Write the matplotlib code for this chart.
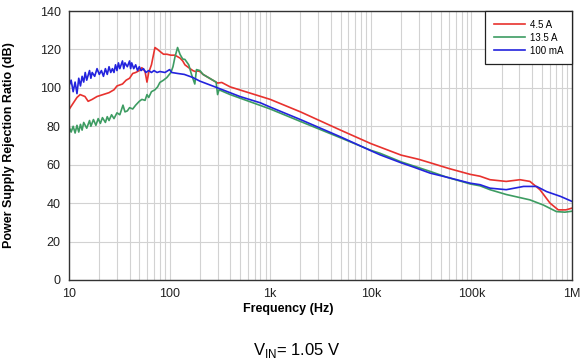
import matplotlib.pyplot as plt
from matplotlib.ticker import FixedLocator, FixedFormatter, LogLocator, NullFormatter

plt.rcParams['font.family'] = ['Liberation Sans', 'DejaVu Sans']
plt.rcParams['mathtext.fontset'] = 'custom'
plt.rcParams['mathtext.rm'] = 'Liberation Sans'

# 4.5 A
f_red = [10, 11, 12, 12.9, 14.4, 15.5, 17, 19, 21.8, 25, 28, 30, 34, 37, 40, 43, 46, 50,
         53, 57, 59.6, 62, 66, 71.5, 76, 80, 87, 94, 103, 113, 127, 135, 142, 155, 170,
         180, 191, 200, 215, 300, 330, 400, 1000, 2000, 5000, 10000, 20000, 30000, 39000,
         60000, 97000, 122000, 153000, 222000, 304000, 382000, 480000, 605000, 730000,
         870000, 1000000]
db_red = [88.7, 92, 95, 96.5, 95.5, 93, 94, 95.5, 96.5, 97.5, 99, 101, 102, 104, 105, 107.5,
          108, 109, 110.5, 108.5, 103, 108, 112, 121, 120, 119, 117.5, 117.5, 117, 117, 115.5,
          114, 112, 110.5, 109, 108.5, 108.8, 108.5, 107, 102.5, 102.8, 100.5, 94, 87.5, 78,
          71, 65, 62.8, 61, 58, 55, 54, 52.2, 51.3, 52.2, 51.3, 47, 40, 36.5, 36.5, 37.4]

# 13.5 A
f_green = [10, 10.5, 11, 11.5, 12, 12.5, 13, 13.5, 14, 15, 16, 16.5, 17.5, 18.5, 19.5, 20.5,
           21.5, 23, 24, 25, 26.5, 28, 30, 32, 34.4, 36, 38, 40, 43, 46, 50, 53, 57, 59.6, 62,
           66, 71.5, 76, 80, 87, 94, 103, 108, 113, 120, 127, 135, 142, 155, 165, 178, 185,
           200, 215, 290, 300, 310, 400, 1000, 2000, 5000, 10000, 12300, 20000, 39000, 57000,
           97000, 122000, 153000, 222000, 382000, 520000, 700000, 850000, 1000000]
db_green = [79.8, 77, 80, 76.5, 80.5, 77, 81, 78, 82, 79, 83, 80, 83.5, 80.5, 84, 81.5, 84.5,
            82, 85, 83, 86, 84, 87, 86, 91, 87.5, 88, 89.7, 89, 91, 93, 94, 93.5, 96.5, 95, 98,
            99, 100.5, 102.8, 104, 105.4, 108, 111, 116, 121, 117.4, 115, 114.8, 112, 107, 102,
            109.5, 109, 107, 103, 96.5, 99, 96.5, 89, 82.5, 74, 67.5, 66, 61.5, 56.5, 53.5,
            50, 49, 47, 44.5, 41.7, 39, 35.6, 35.3, 35.8]

# 100 mA
f_blue = [10, 10.5, 11, 11.5, 12, 12.5, 13, 13.5, 14, 14.5, 15, 16, 16.5, 17, 18, 19, 20, 21,
          22, 23, 24, 25, 26, 27, 28, 29, 30, 31, 32, 34, 35, 36, 38, 40, 41, 42, 44, 46, 48,
          50, 52, 55, 58, 62, 66, 70, 75, 80, 90, 100, 105, 120, 140, 170, 200, 300, 500, 800,
          1000, 2000, 5000, 10000, 12300, 20000, 26500, 39000, 57000, 97000, 122000, 153000,
          222000, 330000, 445000, 560000, 770000, 1000000]
db_blue = [101, 104, 98, 103, 97, 105, 101, 106, 103, 108, 104, 109, 105, 108, 106, 110, 107,
           109, 106, 110, 107, 111, 108, 110, 108, 112, 109, 113, 110, 114, 110, 113, 111, 114,
           110, 113, 110, 112, 109, 111, 109, 110, 108, 109, 108, 109, 108, 108.5, 108, 109.5,
           108, 107.5, 107, 105.4, 103.5, 100, 95.5, 92.2, 90, 83.5, 74.5, 67.3, 65.2, 61,
           58.8, 55.6, 53.5, 50.4, 49.6, 47.8, 47, 48.7, 48.7, 46, 43.5, 40.9]

x_ticks = [10, 100, 1000, 10000, 100000, 1000000]
x_labels = ['10', '100', '1k', '10k', '100k', '1M']
y_ticks = [0, 20, 40, 60, 80, 100, 120, 140]

fig = plt.figure(figsize=(5.82, 3.62), dpi=100)
ax = fig.add_axes([69 / 582, 1 - 280 / 362, 503 / 582, 269 / 362])

ax.plot(f_red, db_red, color='#e8322e', lw=1.2, label='4.5 A')
ax.plot(f_green, db_green, color='#3d9c62', lw=1.2, label='13.5 A')
ax.plot(f_blue, db_blue, color='#2323dd', lw=1.2, label='100 mA')

ax.set_xscale('log')
ax.set_xlim(10, 1e6)
ax.set_ylim(0, 140)
ax.xaxis.set_major_locator(FixedLocator(x_ticks))
ax.xaxis.set_major_formatter(FixedFormatter(x_labels))
ax.xaxis.set_minor_locator(LogLocator(base=10, subs=range(2, 10)))
ax.xaxis.set_minor_formatter(NullFormatter())
ax.set_yticks(y_ticks)

ax.grid(True, which='major', color='#d2d2d2', lw=0.8)
ax.grid(True, which='minor', axis='x', color='#d2d2d2', lw=0.8)
ax.set_axisbelow(True)
ax.tick_params(which='both', length=0, labelsize=9, colors='#222222', pad=6)
for s in ax.spines.values():
    s.set_color('#333333')
    s.set_linewidth(1.0)

ax.set_xlabel('Frequency (Hz)', fontsize=9, fontweight='bold')
ax.xaxis.set_label_coords(0.435, -0.085)
ax.set_ylabel('Power Supply Rejection Ratio (dB)', fontsize=9, fontweight='bold')
ax.yaxis.set_label_coords(-0.107, 0.5)

leg = ax.legend(loc='upper right', fontsize=7, fancybox=False, framealpha=1,
                edgecolor='#222222', borderaxespad=0, handlelength=3.2, labelspacing=0.3,
                borderpad=0.9, handletextpad=0.5)
leg.get_frame().set_linewidth(0.9)

fig.text(297 / 582, 1 - 350 / 362, r'V$_{\mathrm{IN}}$= 1.05 V', fontsize=12,
         ha='center', va='center')

fig.savefig('out.png', dpi=100)
